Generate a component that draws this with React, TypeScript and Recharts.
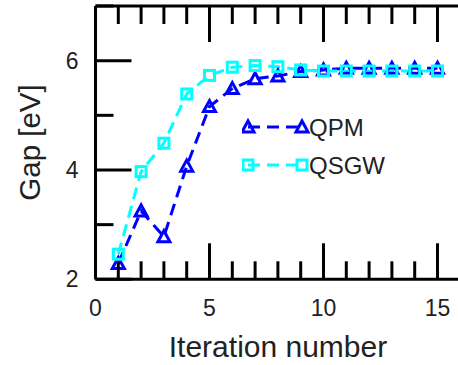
import React from 'react';
import { LineChart, Line, XAxis, YAxis, Legend } from 'recharts';

const iterations = [1, 2, 3, 4, 5, 6, 7, 8, 9, 10, 11, 12, 13, 14, 15];
const qpm = [2.29, 3.25, 2.78, 4.07, 5.16, 5.49, 5.67, 5.72, 5.8, 5.83, 5.86, 5.86, 5.86, 5.86, 5.86];
const qsgw = [2.46, 3.97, 4.49, 5.39, 5.73, 5.88, 5.91, 5.89, 5.83, 5.81, 5.81, 5.81, 5.81, 5.81, 5.81];

const xTicks = [0, 1, 2, 3, 4, 5, 6, 7, 8, 9, 10, 11, 12, 13, 14, 15, 16];
const xLabels = [0, 5, 10, 15];
const yTicks = [2, 3, 4, 5, 6, 7];
const yLabels = [2, 4, 6];

const data = iterations.map((it, i) => ({ it, qpm: qpm[i], qsgw: qsgw[i] }));

const BLUE = '#0000ff';
const CYAN = '#00ffff';
const FONT = '"Liberation Sans", Arial, Helvetica, sans-serif';
const TXT = '#222';

const MAJOR = 36;
const MINOR = 18;

const BottomTick = (props: any) => {
  const { x, y, payload } = props;
  const v = payload.value;
  const major = v % 5 === 0;
  return (
    <g>
      <line x1={x} x2={x} y1={y} y2={y - (major ? MAJOR : MINOR)} stroke="#000" strokeWidth={3} />
      {xLabels.includes(v) && (
        <text x={x} y={y + 37} textAnchor="middle" fontSize={23} fontFamily={FONT} fill={TXT}>
          {v}
        </text>
      )}
    </g>
  );
};

const TopTick = (props: any) => {
  const { x, y, payload } = props;
  const major = payload.value % 5 === 0;
  return <line x1={x} x2={x} y1={y} y2={y + (major ? MAJOR : MINOR)} stroke="#000" strokeWidth={3} />;
};

const LeftTick = (props: any) => {
  const { x, y, payload } = props;
  const v = payload.value;
  const major = v % 2 === 0;
  return (
    <g>
      <line x1={x} x2={x + (major ? MAJOR : MINOR)} y1={y} y2={y} stroke="#000" strokeWidth={3} />
      {yLabels.includes(v) && (
        <text x={x - 17} y={y + 8} textAnchor="end" fontSize={23} fontFamily={FONT} fill={TXT}>
          {v}
        </text>
      )}
    </g>
  );
};

const RightTick = (props: any) => {
  const { x, y, payload } = props;
  const major = payload.value % 2 === 0;
  return <line x1={x} x2={x - (major ? MAJOR : MINOR)} y1={y} y2={y} stroke="#000" strokeWidth={3} />;
};

const Triangle = (props: any) => {
  const { cx, cy, index } = props;
  if (cx == null || cy == null) return <g key={`t-${index}`} />;
  return (
    <path
      key={`t-${index}`}
      d={`M${cx - 6},${cy + 5} L${cx},${cy - 6} L${cx + 6},${cy + 5} Z`}
      fill="none"
      stroke={BLUE}
      strokeWidth={3}
    />
  );
};

const Square = (props: any) => {
  const { cx, cy, index } = props;
  if (cx == null || cy == null) return <g key={`s-${index}`} />;
  return <rect key={`s-${index}`} x={cx - 5} y={cy - 5} width={10} height={10} fill="none" stroke={CYAN} strokeWidth={3} />;
};

const renderLegend = () => {
  const rows = [
    { name: 'QPM', color: BLUE, tri: true },
    { name: 'QSGW', color: CYAN, tri: false },
  ];
  return (
    <svg width={150} height={70}>
      {rows.map((r, i) => {
        const y = 12 + i * 38;
        return (
          <g key={r.name}>
            <line x1={6} x2={60} y1={y} y2={y} stroke={r.color} strokeWidth={3} strokeDasharray="12 7" />
            {[6, 60].map((mx) =>
              r.tri ? (
                <path key={mx} d={`M${mx - 6},${y + 5} L${mx},${y - 6} L${mx + 6},${y + 5} Z`} fill="none" stroke={r.color} strokeWidth={3} />
              ) : (
                <rect key={mx} x={mx - 5} y={y - 5} width={10} height={10} fill="none" stroke={r.color} strokeWidth={3} />
              )
            )}
            <text x={67} y={y + 8.5} fontSize={24} fontFamily={FONT} fill={TXT}>
              {r.name}
            </text>
          </g>
        );
      })}
    </svg>
  );
};

export default function App() {
  return (
    <div style={{ position: 'absolute', left: 0, top: 0, width: 458, height: 365, overflow: 'hidden', background: '#fff' }}>
      <LineChart width={470} height={365} data={data} margin={{ top: 5, left: 94.5, right: 8.7, bottom: 84.7 }}>
        <XAxis
          xAxisId="b"
          dataKey="it"
          type="number"
          domain={[0, 16]}
          ticks={xTicks}
          interval={0}
          height={1}
          tickSize={0}
          tickMargin={0}
          tickLine={false}
          axisLine={{ stroke: '#000', strokeWidth: 3 }}
          tick={<BottomTick />}
        />
        <XAxis
          xAxisId="t"
          orientation="top"
          dataKey="it"
          type="number"
          domain={[0, 16]}
          ticks={xTicks}
          interval={0}
          height={1}
          tickSize={0}
          tickMargin={0}
          tickLine={false}
          axisLine={{ stroke: '#000', strokeWidth: 3 }}
          tick={<TopTick />}
        />
        <YAxis
          yAxisId="l"
          type="number"
          domain={[2, 7]}
          ticks={yTicks}
          interval={0}
          width={1}
          tickSize={0}
          tickMargin={0}
          tickLine={false}
          axisLine={{ stroke: '#000', strokeWidth: 3 }}
          tick={<LeftTick />}
        />
        <YAxis
          yAxisId="r"
          orientation="right"
          type="number"
          domain={[2, 7]}
          ticks={yTicks}
          interval={0}
          width={1}
          tickSize={0}
          tickMargin={0}
          tickLine={false}
          axisLine={{ stroke: '#000', strokeWidth: 3 }}
          tick={<RightTick />}
        />
        <Legend
          layout="vertical"
          align="center"
          verticalAlign="middle"
          content={renderLegend}
          wrapperStyle={{ position: 'absolute', left: 242, top: 115, width: 150, height: 70 }}
        />
        <Line
          xAxisId="b"
          yAxisId="l"
          dataKey="qpm"
          name="QPM"
          stroke={BLUE}
          strokeWidth={3}
          strokeDasharray="12 7"
          dot={Triangle}
          activeDot={false}
          isAnimationActive={false}
        />
        <Line
          xAxisId="b"
          yAxisId="l"
          dataKey="qsgw"
          name="QSGW"
          stroke={CYAN}
          strokeWidth={3}
          strokeDasharray="12 7"
          dot={Square}
          activeDot={false}
          isAnimationActive={false}
        />
      </LineChart>
      <svg width={458} height={365} style={{ position: 'absolute', left: 0, top: 0, pointerEvents: 'none' }}>
        <text
          x={40}
          y={142.5}
          transform="rotate(-90, 40, 142.5)"
          textAnchor="middle"
          fontSize={29.5}
          fontFamily={FONT}
          fill={TXT}
        >
          Gap [eV]
        </text>
        <text x={278} y={357} textAnchor="middle" fontSize={30} fontFamily={FONT} fill={TXT}>
          Iteration number
        </text>
      </svg>
    </div>
  );
}
